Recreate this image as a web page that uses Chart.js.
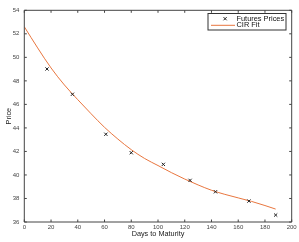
<!DOCTYPE html>
<html>
<head>
<meta charset="utf-8">
<script src="https://cdn.jsdelivr.net/npm/chart.js@4/dist/chart.umd.min.js"></script>
<style>
  html, body { margin: 0; padding: 0; background: #fff; }
  #wrap { width: 299px; height: 242px; }
</style>
</head>
<body>
<div id="wrap"><canvas id="cirChart" width="299" height="242"></canvas></div>
<script>
// observed futures prices
const days = [17, 36, 61, 80, 104, 124, 143, 168, 188];
const prices = [49.01, 46.86, 43.46, 41.89, 40.9, 39.54, 38.57, 37.78, 36.59];

// fitted CIR curve
const fitDays = [0, 10, 20, 30, 40, 50, 60, 70, 80, 90, 100, 110, 120, 130, 140, 150, 160, 170, 180, 188];
const fitPrices = [52.6, 50.8, 49.1, 47.65, 46.4, 45.2, 44.05, 43.05, 42.15, 41.4, 40.8, 40.2, 39.65, 39.15, 38.7, 38.35, 38.05, 37.75, 37.4, 37.1];

const xTicks = [0, 20, 40, 60, 80, 100, 120, 140, 160, 180, 200];
const yTicks = [36, 38, 40, 42, 44, 46, 48, 50, 52, 54];

const axisColor = '#444';
const fitColor = '#e8763f';
const fontFamily = '"Liberation Sans", Arial, sans-serif';

// MATLAB style box with inward ticks and an in-plot legend
const boxPlugin = {
    id: 'boxPlugin',
    afterDraw(chart) {
        const ctx = chart.ctx;
        const a = chart.chartArea;
        const xs = chart.scales.x;
        const ys = chart.scales.y;
        const tl = 2.5;
        ctx.save();
        ctx.strokeStyle = axisColor;
        ctx.lineWidth = 1;
        ctx.beginPath();
        ctx.rect(a.left, a.top, a.right - a.left, a.bottom - a.top);
        ctx.stroke();
        ctx.beginPath();
        xTicks.forEach(v => {
            const px = xs.getPixelForValue(v);
            ctx.moveTo(px, a.bottom); ctx.lineTo(px, a.bottom - tl);
            ctx.moveTo(px, a.top); ctx.lineTo(px, a.top + tl);
        });
        yTicks.forEach(v => {
            const py = ys.getPixelForValue(v);
            ctx.moveTo(a.left, py); ctx.lineTo(a.left + tl, py);
            ctx.moveTo(a.right, py); ctx.lineTo(a.right - tl, py);
        });
        ctx.stroke();

        // legend
        const lx = 208, ly = 13.5, lw = 78, lh = 16.5;
        ctx.fillStyle = '#fff';
        ctx.fillRect(lx, ly, lw, lh);
        ctx.strokeStyle = '#333';
        ctx.strokeRect(lx, ly, lw, lh);

        const r1 = ly + 5.2, r2 = ly + 11.8;
        ctx.strokeStyle = '#222';
        ctx.beginPath();
        ctx.moveTo(223.5, r1 - 1.6); ctx.lineTo(226.7, r1 + 1.6);
        ctx.moveTo(223.5, r1 + 1.6); ctx.lineTo(226.7, r1 - 1.6);
        ctx.stroke();
        ctx.strokeStyle = fitColor;
        ctx.beginPath();
        ctx.moveTo(211, r2); ctx.lineTo(235, r2);
        ctx.stroke();

        ctx.fillStyle = '#111';
        ctx.font = '7.4px ' + fontFamily;
        ctx.textBaseline = 'middle';
        ctx.textAlign = 'left';
        ctx.fillText('Futures Prices', 236.5, r1);
        ctx.fillText('CIR Fit', 236.5, r2);
        ctx.restore();
    }
};

const ctx = document.getElementById('cirChart').getContext('2d');
const cirChart = new Chart(ctx, {
    type: 'scatter',
    data: {
        datasets: [{
            label: 'Futures Prices',
            data: days.map((d, i) => ({ x: d, y: prices[i] })),
            pointStyle: 'crossRot',
            pointRadius: 2.3,
            borderColor: '#222',
            borderWidth: 1,
            showLine: false
        }, {
            label: 'CIR Fit',
            data: fitDays.map((d, i) => ({ x: d, y: fitPrices[i] })),
            showLine: true,
            borderColor: fitColor,
            borderWidth: 1,
            pointRadius: 0,
            tension: 0.4,
            cubicInterpolationMode: 'monotone'
        }]
    },
    options: {
        responsive: false,
        animation: false,
        events: [],
        layout: { padding: { top: 10.3, right: 7.3, left: 0, bottom: 0 } },
        plugins: {
            legend: { display: false },
            tooltip: { enabled: false }
        },
        scales: {
            x: {
                type: 'linear',
                min: 0,
                max: 200,
                afterFit: s => { s.height = 20; },
                afterBuildTicks: s => { s.ticks = xTicks.map(v => ({ value: v })); },
                grid: { display: false, drawTicks: false },
                border: { display: false },
                ticks: {
                    color: axisColor,
                    padding: 1.5,
                    maxRotation: 0,
                    font: { family: fontFamily, size: 6 }
                },
                title: {
                    display: true,
                    text: 'Days to Maturity',
                    color: '#222',
                    padding: { top: 0, bottom: 3.3 },
                    font: { family: fontFamily, size: 7.3 }
                }
            },
            y: {
                type: 'linear',
                min: 36,
                max: 54,
                afterFit: s => { s.width = 24.3; },
                afterBuildTicks: s => { s.ticks = yTicks.map(v => ({ value: v })); },
                grid: { display: false, drawTicks: false },
                border: { display: false },
                ticks: {
                    color: axisColor,
                    padding: 5,
                    font: { family: fontFamily, size: 6 }
                },
                title: {
                    display: true,
                    text: 'Price',
                    color: '#222',
                    padding: { top: 4.4, bottom: 0 },
                    font: { family: fontFamily, size: 7.3 }
                }
            }
        }
    },
    plugins: [boxPlugin]
});
</script>
</body>
</html>
